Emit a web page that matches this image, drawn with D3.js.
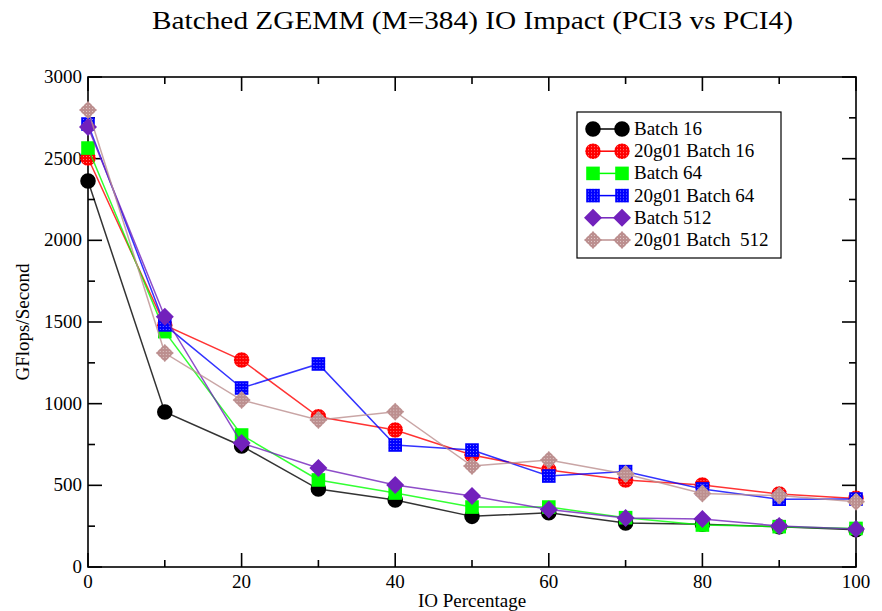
<!DOCTYPE html>
<html>
<head>
<meta charset="utf-8">
<script src="https://cdn.jsdelivr.net/npm/d3@7"></script>
<style>
  body { margin: 0; background: #fff; }
</style>
</head>
<body>
<svg></svg>
<script>
const size = {w: 882, h: 611};
const margin = {t: 77, r: 26, b: 44, l: 88};

// data
const ioPct = [0, 10, 20, 30, 40, 50, 60, 70, 80, 90, 100];
const batch16      = [2363, 949, 741, 477, 410, 310, 332, 270, 262, 246, 228];
const g01batch16   = [2504, 1480, 1267, 920, 839, 686, 594, 533, 502, 447, 420];
const batch64      = [2565, 1441, 808, 533, 453, 367, 367, 302, 257, 247, 236];
const g01batch64   = [2712, 1482, 1096, 1243, 747, 716, 557, 584, 478, 415, 416];
const batch512     = [2694, 1532, 759, 606, 502, 435, 352, 300, 294, 251, 232];
const g01batch512  = [2798, 1310, 1022, 900, 951, 618, 655, 569, 450, 437, 400];

const xTicks = [0, 20, 40, 60, 80, 100];
const yTicks = [0, 500, 1000, 1500, 2000, 2500, 3000];

const series = [
  {name: 'Batch 16', values: batch16, color: '#000000', shape: 'circle'},
  {name: '20g01 Batch 16', values: g01batch16, color: '#ff0000', shape: 'circle', dotted: true},
  {name: 'Batch 64', values: batch64, color: '#00ff00', shape: 'square'},
  {name: '20g01 Batch 64', values: g01batch64, color: '#0000ff', shape: 'square', dotted: true},
  {name: 'Batch 512', values: batch512, color: '#7221bc', shape: 'diamond'},
  {name: '20g01 Batch\u00a0\u00a0512', values: g01batch512, color: '#bc8f8f', shape: 'diamond', dotted: true}
];

const svg = d3.select('svg')
    .attr('width', size.w).attr('height', size.h)
    .attr('font-family', "'Liberation Serif', 'Times New Roman', 'DejaVu Serif', serif");

// dotted fill patterns for the "20g01" markers
const defs = svg.append('defs');
series.filter(s => s.dotted).forEach((s, i) => {
  let p = defs.append('pattern')
      .attr('id', 'dots' + i)
      .attr('width', 3).attr('height', 3)
      .attr('patternUnits', 'userSpaceOnUse');
  p.append('rect').attr('width', 3).attr('height', 3).attr('fill', s.color);
  p.append('rect').attr('x', 1).attr('y', 1).attr('width', 1).attr('height', 1)
      .attr('fill', '#fff').attr('opacity', 0.5);
  s.fill = 'url(#dots' + i + ')';
});

const x = d3.scaleLinear().domain([0, 100]).range([margin.l, size.w - margin.r]);
const y = d3.scaleLinear().domain([0, 3000]).range([size.h - margin.b, margin.t]);

// title
svg.append('text')
    .attr('x', 472.5).attr('y', 29)
    .attr('text-anchor', 'middle')
    .attr('font-size', 26)
    .attr('textLength', 641)
    .attr('lengthAdjust', 'spacingAndGlyphs')
    .text('Batched ZGEMM (M=384) IO Impact (PCI3 vs PCI4)');

// axes, ticks pointing inward on all four sides
const axisG = svg.append('g').attr('stroke', '#000').attr('stroke-width', 1.6);
axisG.append('rect')
    .attr('x', x(0)).attr('y', y(3000))
    .attr('width', x(100) - x(0)).attr('height', y(0) - y(3000))
    .attr('fill', 'none');

const xMinor = d3.range(0, 101, 10);
const yMinor = d3.range(0, 3001, 250);
xMinor.forEach(v => {
  let len = v % 20 === 0 ? 14 : 7;
  axisG.append('line').attr('x1', x(v)).attr('x2', x(v)).attr('y1', y(0)).attr('y2', y(0) - len);
  axisG.append('line').attr('x1', x(v)).attr('x2', x(v)).attr('y1', y(3000)).attr('y2', y(3000) + len);
});
yMinor.forEach(v => {
  let len = v % 500 === 0 ? 14 : 7;
  axisG.append('line').attr('y1', y(v)).attr('y2', y(v)).attr('x1', x(0)).attr('x2', x(0) + len);
  axisG.append('line').attr('y1', y(v)).attr('y2', y(v)).attr('x1', x(100)).attr('x2', x(100) - len);
});

svg.append('g').selectAll('text')
    .data(xTicks).join('text')
    .attr('x', d => x(d)).attr('y', y(0) + 21)
    .attr('text-anchor', 'middle')
    .attr('font-size', 19)
    .text(d => d);

svg.append('g').selectAll('text')
    .data(yTicks).join('text')
    .attr('x', x(0) - 6).attr('y', d => y(d) + 6)
    .attr('text-anchor', 'end')
    .attr('font-size', 19)
    .text(d => d);

svg.append('text')
    .attr('x', x(50)).attr('y', 607)
    .attr('text-anchor', 'middle')
    .attr('font-size', 19)
    .text('IO Percentage');

svg.append('text')
    .attr('transform', 'translate(29,' + y(1500) + ') rotate(-90)')
    .attr('text-anchor', 'middle')
    .attr('font-size', 19)
    .text('GFlops/Second');

// marker helper
const symbolFor = {
  circle: d3.symbol().type(d3.symbolCircle).size(190),
  square: d3.symbol().type(d3.symbolSquare).size(185),
  diamond: () => 'M0,-9L9,0L0,9L-9,0Z'
};

function drawMarker(g, s, cx, cy) {
  g.append('path')
      .attr('d', symbolFor[s.shape]())
      .attr('transform', 'translate(' + cx + ',' + cy + ')')
      .attr('fill', s.fill || s.color);
}

const line = d3.line().x((d, i) => x(ioPct[i])).y(d => y(d));

const plotG = svg.append('g');
series.forEach(s => {
  plotG.append('path')
      .datum(s.values)
      .attr('d', line)
      .attr('fill', 'none')
      .attr('stroke', s.color)
      .attr('stroke-opacity', 0.8)
      .attr('stroke-width', 1.5);
  s.values.forEach((v, i) => drawMarker(plotG, s, x(ioPct[i]), y(v)));
});

// legend
const legG = svg.append('g');
legG.append('rect')
    .attr('x', 577).attr('y', 112)
    .attr('width', 204).attr('height', 146)
    .attr('fill', '#fff')
    .attr('stroke', '#000').attr('stroke-width', 1.2);

series.forEach((s, i) => {
  let ly = 129 + i * 22.2;
  legG.append('line')
      .attr('x1', 593).attr('x2', 622).attr('y1', ly).attr('y2', ly)
      .attr('stroke', s.color).attr('stroke-width', 1.5);
  drawMarker(legG, s, 593, ly);
  drawMarker(legG, s, 622, ly);
  legG.append('text')
      .attr('x', 634).attr('y', ly + 6)
      .attr('font-size', 19)
      .text(s.name);
});
</script>
</body>
</html>
